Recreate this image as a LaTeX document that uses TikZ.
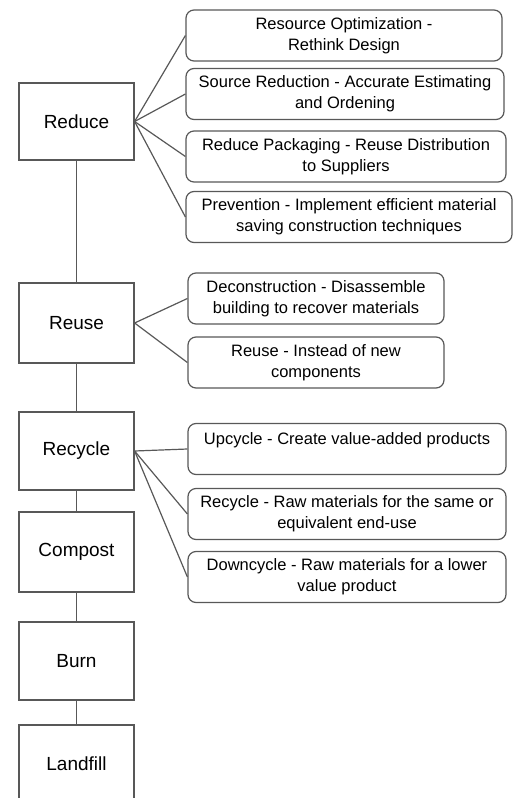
\documentclass[tikz,border=0pt]{standalone}
\usepackage{fontspec}
\setmainfont{Liberation Sans}
\usetikzlibrary{positioning}
\definecolor{linegray}{RGB}{88,88,88}

\begin{document}
\begin{tikzpicture}[x=1pt,y=-1pt,
    stagebox/.style={draw=linegray, line width=1.2pt, minimum width=115pt,
      inner sep=0pt, font=\fontsize{19}{23}\selectfont},
    optbox/.style={draw=linegray, line width=1.2pt, rounded corners=8pt,
      minimum height=51pt, inner sep=0pt, align=center,
      font=\fontsize{16.5}{21}\selectfont},
    link/.style={draw=linegray, line width=1.2pt}]
  \useasboundingbox (0,0) rectangle (514,798);
  \clip (0,0) rectangle (514,798);
  % waste hierarchy, top to bottom
  \foreach \stname/\sty/\sth/\sttext in {
    reduce/121.5/77/Reduce,
    reuse/323/80/Reuse,
    recycle/451/78/Recycle,
    compost/552/80/Compost,
    burn/661/78/Burn,
    landfill/764/78/Landfill}{
    \node[stagebox, minimum height=\sth pt] (\stname) at (76.5,\sty) {\sttext};
  }
  \draw[link] (reduce) -- (reuse) -- (recycle) -- (compost) -- (burn) -- (landfill);
  % options beside each stage
  \foreach \opname/\opx/\opy/\opw/\lineone/\linetwo in {
    optimize/344/35.5/316/Resource Optimization -/Rethink Design,
    source/345/94/318/Source Reduction - Accurate Estimating/and Ordening,
    packaging/346/156.5/320/Reduce Packaging - Reuse Distribution/to Suppliers,
    prevention/349/217/326/Prevention - Implement efficient material/saving construction techniques,
    deconstruct/316/298.5/256/Deconstruction - Disassemble/building to recover materials,
    reusenew/316/362.5/256/Reuse - Instead of new/components,
    samecycle/347/514/318/Recycle - Raw materials for the same or/equivalent end-use,
    downcycle/347/577/318/Downcycle - Raw materials for a lower/value product}{
    \node[optbox, minimum width=\opw pt] (\opname) at (\opx,\opy) {\lineone\\\linetwo};
  }
  % one-line option, text kept at the top
  \node[optbox, minimum width=318pt] (upcycle) at (347,449)
    {Upcycle - Create value-added products\\\mbox{}};
  % connectors from stage to option
  \foreach \src/\dst in {
    reduce/optimize, reduce/source, reduce/packaging, reduce/prevention,
    reuse/deconstruct, reuse/reusenew,
    recycle/upcycle, recycle/samecycle, recycle/downcycle}{
    \draw[link] (\src.east) -- (\dst.west);
  }
\end{tikzpicture}
\end{document}
